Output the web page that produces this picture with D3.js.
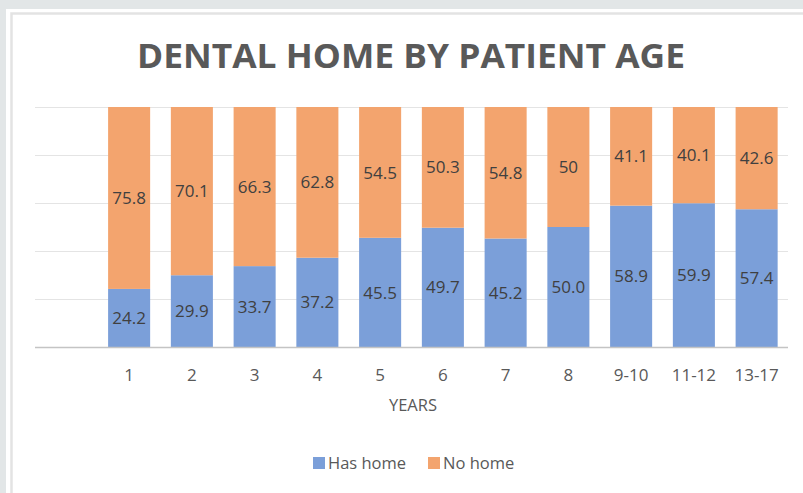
<!DOCTYPE html>
<html>
<head>
<meta charset="utf-8">
<script src="https://cdn.jsdelivr.net/npm/d3@7"></script>
<style>
  html, body { margin: 0; padding: 0; background: #e2e6e7; }
  svg { display: block; }
</style>
</head>
<body>
<svg id="chart" width="803" height="493"></svg>
<script>
// Data
const ages = ["1", "2", "3", "4", "5", "6", "7", "8", "9-10", "11-12", "13-17"];
const hasHome = [24.2, 29.9, 33.7, 37.2, 45.5, 49.7, 45.2, 50.0, 58.9, 59.9, 57.4];
const noHome = [75.8, 70.1, 66.3, 62.8, 54.5, 50.3, 54.8, 50, 41.1, 40.1, 42.6];
const seriesNames = ["Has home", "No home"];
const yTicks = [0, 20, 40, 60, 80, 100];

const colors = { "Has home": "#7b9fd9", "No home": "#f3a46e" };
const W = 803, H = 493;
const plot = { left: 35, right: 788, top: 107, bottom: 347 };
const font = "Open Sans, sans-serif";

const $svg = d3.select("#chart");

// Panel
$svg.append("rect").attr("x", 6).attr("y", 9).attr("width", W).attr("height", H).attr("fill", "#fff");
$svg.append("path")
  .attr("d", `M11.5,${H} V13.5 H${W}`)
  .attr("fill", "none").attr("stroke", "#e3e3e3").attr("stroke-width", 2.5);

// Scales (Excel leaves one empty slot before the first category)
const step = (plot.right - plot.left) / (ages.length + 1);
const x = d3.scaleBand()
  .domain(ages)
  .range([plot.left + step, plot.right])
  .paddingInner(0.33)
  .paddingOuter(0.165);

const y = d3.scaleLinear()
  .domain([0, 100])
  .range([plot.bottom, plot.top]);

// Grid
$svg.append("g")
  .selectAll("line")
  .data(yTicks.slice(1))
  .join("line")
    .attr("x1", plot.left).attr("x2", plot.right)
    .attr("y1", d => Math.round(y(d)) + 0.5).attr("y2", d => Math.round(y(d)) + 0.5)
    .attr("stroke", "#e4e4e4").attr("stroke-width", 1);

// Stacks
const rows = ages.map((a, i) => ({ age: a, "Has home": hasHome[i], "No home": noHome[i] }));
const stack = d3.stack().keys(seriesNames)(rows);

$svg.append("g")
  .selectAll("g")
  .data(stack)
  .join("g")
    .attr("fill", d => colors[d.key])
  .selectAll("rect")
  .data(d => d)
  .join("rect")
    .attr("x", d => x(d.data.age))
    .attr("width", x.bandwidth())
    .attr("y", d => y(d[1]))
    .attr("height", d => y(d[0]) - y(d[1]));

// Value labels
const fmt = (key, v) => key === "Has home" ? v.toFixed(1) : String(v);
$svg.append("g")
  .selectAll("g")
  .data(stack)
  .join("g")
  .selectAll("text")
  .data(d => d.map(s => ({ key: d.key, s })))
  .join("text")
    .attr("x", d => x(d.s.data.age) + x.bandwidth() / 2)
    .attr("y", d => y((d.s[0] + d.s[1]) / 2))
    .attr("dy", "0.36em")
    .attr("text-anchor", "middle")
    .attr("font-family", font)
    .attr("font-size", 17)
    .attr("fill", "#404040")
    .text(d => fmt(d.key, d.s.data[d.key]));

// X axis
const xAxis = d3.axisBottom(x).tickSize(0).tickPadding(0);
const $xAxis = $svg.append("g")
  .attr("transform", `translate(0,${plot.bottom})`)
  .call(xAxis);
$xAxis.select(".domain").remove();
$xAxis.selectAll("text")
  .attr("y", 34)
  .attr("dy", 0)
  .attr("font-family", font)
  .attr("font-size", 17)
  .attr("fill", "#595959");
$svg.append("line")
  .attr("x1", plot.left).attr("x2", plot.right)
  .attr("y1", plot.bottom + 0.5).attr("y2", plot.bottom + 0.5)
  .attr("stroke", "#c4c4c4").attr("stroke-width", 1.5);

// Axis title
$svg.append("text")
  .attr("x", 413).attr("y", 411)
  .attr("text-anchor", "middle")
  .attr("font-family", font)
  .attr("font-size", 16.5)
  .attr("fill", "#595959")
  .text("YEARS");

// Title
$svg.append("text")
  .attr("x", 411).attr("y", 68)
  .attr("text-anchor", "middle")
  .attr("font-family", font)
  .attr("font-weight", "bold")
  .attr("font-size", 34)
  .attr("textLength", 548)
  .attr("lengthAdjust", "spacingAndGlyphs")
  .attr("fill", "#595959")
  .text("DENTAL HOME BY PATIENT AGE");

// Legend
const legendX = [313, 428];
const $item = $svg.append("g")
  .selectAll("g")
  .data(seriesNames)
  .join("g")
    .attr("transform", (d, i) => `translate(${legendX[i]},463)`);
$item.append("rect")
  .attr("x", 0).attr("y", -6).attr("width", 12).attr("height", 12)
  .attr("fill", d => colors[d]);
$item.append("text")
  .attr("x", 15).attr("dy", "0.36em")
  .attr("font-family", font)
  .attr("font-size", 16.5)
  .attr("fill", "#595959")
  .text(d => d);
</script>
</body>
</html>
